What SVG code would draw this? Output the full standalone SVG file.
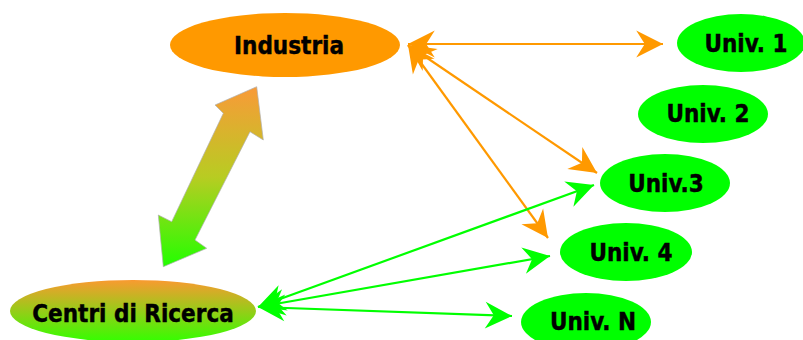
<svg xmlns="http://www.w3.org/2000/svg" width="803" height="340" viewBox="0 0 803 340">
<style>
.lbl{font-family:"DejaVu Sans Condensed","DejaVu Sans","Liberation Sans",sans-serif;font-stretch:condensed;font-weight:bold;font-size:24px;fill:#000;stroke:#000;stroke-width:0.4;text-anchor:middle}
.uni{fill:#00FF00}
.ol{stroke:#FF9900;stroke-width:2.2;fill:none;marker-start:url(#ao);marker-end:url(#ao)}
.gl{stroke:#00FF00;stroke-width:2.2;fill:none;marker-start:url(#ag);marker-end:url(#ag)}
</style>
<defs>
<marker id="ao" markerUnits="userSpaceOnUse" markerWidth="30" markerHeight="30" viewBox="-26 -14 28 28" refX="0" refY="0" orient="auto-start-reverse">
<path d="M0,0 L-25,-12.5 L-17,0 L-25,12.5 Z" fill="#FF9900"/>
</marker>
<marker id="ag" markerUnits="userSpaceOnUse" markerWidth="30" markerHeight="30" viewBox="-26 -14 28 28" refX="0" refY="0" orient="auto-start-reverse">
<path d="M0,0 L-25,-12.5 L-17,0 L-25,12.5 Z" fill="#00FF00"/>
</marker>
<linearGradient id="gc" x1="0" y1="0" x2="0" y2="1">
<stop offset="0" stop-color="#F99A30"/>
<stop offset="1" stop-color="#33FF00"/>
</linearGradient>
<linearGradient id="ga" gradientUnits="userSpaceOnUse" x1="0" y1="87" x2="0" y2="267">
<stop offset="0" stop-color="#F99A38"/>
<stop offset="0.5" stop-color="#B8CC22"/>
<stop offset="1" stop-color="#22FF00"/>
</linearGradient>
</defs>
<g id="connectors">
<line class="ol" x1="408" y1="44" x2="663" y2="44"/>
<line class="ol" x1="408" y1="45" x2="597" y2="173"/>
<line class="ol" x1="408" y1="45" x2="548" y2="238"/>
<line class="gl" x1="258" y1="307" x2="594" y2="185"/>
<line class="gl" x1="258" y1="307" x2="550" y2="256"/>
<line class="gl" x1="258" y1="307" x2="512" y2="316"/>
<polygon id="link-industria-centri" points="256.7,86.7 263.3,140 250,131.7 195,240 206.7,248.3 163.3,266.7 158.3,215 171.7,221.7 223.3,113.3 215,105" fill="url(#ga)" stroke="#B0B0B0" stroke-width="0.7"/>
</g>
<g id="industria">
<ellipse cx="285" cy="45" rx="115" ry="32" fill="#FF9900"/>
<text class="lbl" x="289" y="54">Industria</text>
</g>
<g id="centri">
<ellipse cx="133" cy="311" rx="123" ry="31" fill="url(#gc)"/>
<text class="lbl" x="133" y="322">Centri di Ricerca</text>
</g>
<g id="univ1">
<ellipse class="uni" cx="741" cy="43" rx="64" ry="29"/>
<text class="lbl" x="746" y="52">Univ. 1</text>
</g>
<g id="univ2">
<ellipse class="uni" cx="703" cy="114" rx="65" ry="29"/>
<text class="lbl" x="708" y="122">Univ. 2</text>
</g>
<g id="univ3">
<ellipse class="uni" cx="665" cy="183" rx="65" ry="29"/>
<text class="lbl" x="666" y="192">Univ.3</text>
</g>
<g id="univ4">
<ellipse class="uni" cx="626" cy="252" rx="66" ry="29"/>
<text class="lbl" x="631" y="261">Univ. 4</text>
</g>
<g id="univN">
<ellipse class="uni" cx="586" cy="322" rx="65" ry="29"/>
<text class="lbl" x="593" y="330">Univ. N</text>
</g>
</svg>
